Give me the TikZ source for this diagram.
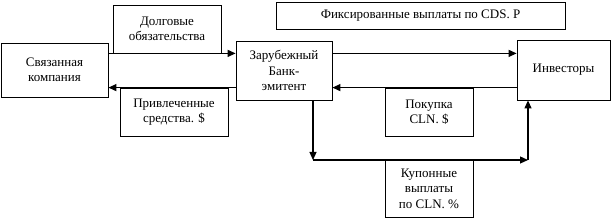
\documentclass[tikz,border=0pt]{standalone}
\usepackage{fontspec}
\setmainfont{Liberation Serif}
\usetikzlibrary{arrows.meta, positioning}

\begin{document}
\begin{tikzpicture}[x=1pt, y=1pt,
    blok/.style={draw, rectangle, line width=0.8pt, align=center, inner sep=2pt,
                 font=\fontsize{13}{15.5}\selectfont},
    potok/.style={-{Triangle[length=8pt, width=7pt]}, line width=1.2pt}]
    \useasboundingbox (0,0) rectangle (613,-221);
    % blocks
    \node[blok, minimum width=107pt, minimum height=54pt] (svyaz) at (54.5,-70) {Связанная\\компания};
    \node[blok, minimum width=108pt, minimum height=48pt] (dolg) at (167,-29) {Долговые\\обязательства};
    \node[blok, minimum width=96pt, minimum height=59pt] (zarub) at (284,-70.5) {Зарубежный\\Банк-\\эмитент};
    \node[blok, minimum width=108pt, minimum height=48pt] (privl) at (174,-112) {Привлеченные\\средства. \$};
    \node[blok, minimum width=289pt, minimum height=27pt] (fiks) at (420.5,-15.5) {Фиксированные выплаты по CDS. Р};
    \node[blok, minimum width=93pt, minimum height=60pt] (invest) at (563.5,-70) {Инвесторы};
    \node[blok, minimum width=88pt, minimum height=48pt] (pokup) at (429,-112) {Покупка\\CLN. \$};
    \node[blok, minimum width=88pt, minimum height=57pt] (kupon) at (429,-188.5) {Купонные\\выплаты\\по CLN. \%};
    \coordinate (niz1) at (313,-160);
    \coordinate (niz2) at (528,-160);
    % flows
    \draw[potok] (svyaz.east |- dolg.south) -- (zarub.west |- dolg.south);
    \draw[potok] (zarub.west |- privl.north) -- (svyaz.east |- privl.north);
    \draw[potok] (zarub.east |- dolg.south) -- (invest.west |- dolg.south);
    \draw[potok] (invest.west |- pokup.north) -- (zarub.east |- pokup.north);
    \draw[potok] (zarub.south -| niz1) -- (niz1);
    \draw[potok] (niz1) -- (niz2);
    \draw[potok] (niz2) -- (invest.south -| niz2);
\end{tikzpicture}
\end{document}
